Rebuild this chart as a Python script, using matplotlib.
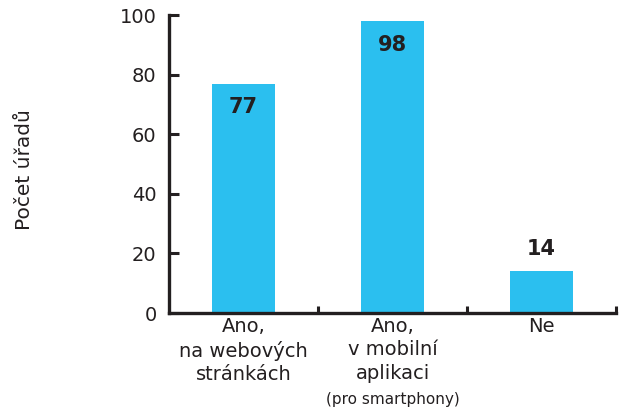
import matplotlib
matplotlib.use("Agg")
import matplotlib.pyplot as plt

categories = ["Ano,\nna webových\nstránkách", "Ano,\nv mobilní\naplikaci", "Ne"]
values = [77, 98, 14]
note = "(pro smartphony)"

plt.rcParams['font.family'] = ['DejaVu Sans']
dark = '#231f20'
blue = '#2bbfef'

fig = plt.figure(figsize=(6.2, 4.08), dpi=100)
ax = fig.add_axes([0.2726, 0.2328, 0.7210, 0.7302])

x = range(len(values))
bars = ax.bar(x, values, width=0.42, color=blue, zorder=2)

for xi, v in zip(x, values):
    # big bars get the label inside, small ones above
    off = -17 if v > 50 else 16
    ax.annotate(str(v), (xi, v), xytext=(0, off), textcoords='offset points',
                ha='center', va='center', fontsize=15, fontweight='bold', color=dark)

ax.set_xlim(-0.5, 2.5)
ax.set_ylim(0, 100)
ax.set_yticks([0, 20, 40, 60, 80, 100])
ax.set_xticks(list(x))
ax.set_xticklabels(categories, fontsize=14, color=dark, linespacing=1.28)
ax.set_xticks([0.5, 1.5, 2.5], minor=True)

ax.tick_params(axis='y', direction='in', length=7, width=2.2, labelsize=14,
               colors=dark, pad=9)
ax.tick_params(axis='x', which='major', length=0, pad=3)
ax.tick_params(axis='x', which='minor', direction='in', length=5, width=2.2, color=dark)

for s in ['top', 'right']:
    ax.spines[s].set_visible(False)
for s in ['left', 'bottom']:
    ax.spines[s].set_linewidth(2.4)
    ax.spines[s].set_color(dark)

ax.annotate(note, (1, 0), xycoords=('data', 'axes fraction'), xytext=(0, -62),
            textcoords='offset points', ha='center', va='center', fontsize=11, color=dark)

fig.text(0.04, 0.585, "Počet úřadů", rotation=90, ha='center', va='center',
         fontsize=14.5, color=dark)

fig.savefig("out.png", dpi=100)
